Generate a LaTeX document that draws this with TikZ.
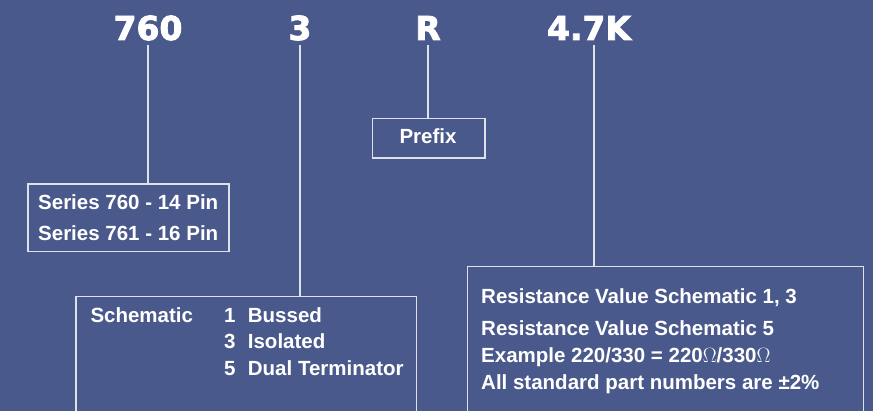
\documentclass[tikz,border=0pt]{standalone}
\usepackage{fontspec}
\setmainfont{Liberation Sans}
\font\heavyfont="DejaVu Sans/B:embolden=2.5" at 33pt
\definecolor{panelblue}{RGB}{74,89,140}
\definecolor{lineblue}{RGB}{222,224,234}

\begin{document}
\begin{tikzpicture}[x=1pt, y=-1pt,
    digit/.style={font=\heavyfont, text=white, inner sep=0pt, outer sep=5pt, anchor=base},
    infobox/.style={draw=lineblue, line width=1.6pt, inner sep=0pt, anchor=north west},
    info/.style={font=\bfseries\fontsize{20.5}{24}\selectfont, text=white, inner sep=0pt, anchor=base west},
    link/.style={draw=lineblue, line width=1.6pt}]
    \useasboundingbox (0,0) rectangle (873,411);
    \fill[panelblue] (0,0) rectangle (873,411);
    \clip (0,0) rectangle (873,411);

    % Part number digits
    \node[digit] (d760) at (148,40) {760};
    \node[digit] (d3) at (300,40) {3};
    \node[digit] (dR) at (428,40) {R};
    \node[digit] (d47K) at (589,40) {4.7K};

    % Boxes
    \node[infobox, minimum width=201, minimum height=67.7] (seriesbox) at (27,183) {};
    \node[infobox, minimum width=112.6, minimum height=39.3] (prefixbox) at (371.7,117.7) {};
    \node[infobox, minimum width=340.7, minimum height=150] (schbox) at (75,295.7) {};
    \node[infobox, minimum width=396, minimum height=180] (resbox) at (466.7,265.7) {};

    % Leader lines
    \draw[link] (d760.south) -- (d760.south |- seriesbox.north);
    \draw[link] (d3.south) -- (d3.south |- schbox.north);
    \draw[link] (dR.south) -- (dR.south |- prefixbox.north);
    \draw[link] ([xshift=5pt]d47K.south) -- ([xshift=5pt]d47K.south |- resbox.north);

    % Series
    \node[info] (series1) at (38,209.6) {Series 760 - 14 Pin};
    \node[info] (series2) at (38,240.6) {Series 761 - 16 Pin};

    % Prefix
    \node[info, anchor=base] (prefix) at (428,144) {Prefix};

    % Schematic
    \node[info] (schlabel) at (90.3,322.3) {Schematic};
    \foreach \n/\word [count=\k] in {1/Bussed, 3/Isolated, 5/Dual Terminator} {
        \node[info] (schnum\k) at (224,{322.3+26.65*(\k-1)}) {\n};
        \node[info] (schword\k) at (247.7,{322.3+26.65*(\k-1)}) {\word};
    }

    % Resistance value
    \node[info] (res1) at (481,304) {Resistance Value Schematic 1, 3};
    \node[info] (res2) at (481,335.6) {Resistance Value Schematic 5};
    \node[info] (res3) at (481,362.3) {Example 220/330 = 220$\Omega$/330$\Omega$};
    \node[info] (res4) at (481,390) {All standard part numbers are ±2\%};
\end{tikzpicture}
\end{document}
